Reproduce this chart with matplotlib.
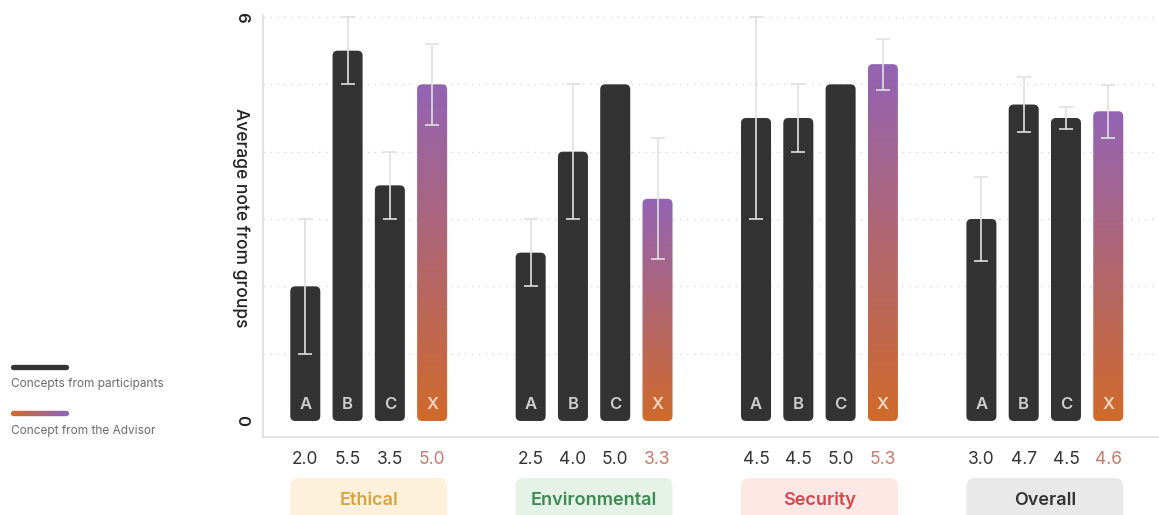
import numpy as np
import matplotlib.pyplot as plt
from matplotlib.patches import FancyBboxPatch
from matplotlib.colors import LinearSegmentedColormap
from matplotlib.collections import LineCollection
from matplotlib.lines import Line2D

plt.rcParams['font.family'] = ['Inter', 'DejaVu Sans']

# --- data ---
categories = ['Ethical', 'Environmental', 'Security', 'Overall']
concepts = ['A', 'B', 'C', 'X']
means = [
    [2.0, 5.5, 3.5, 5.0],
    [2.5, 4.0, 5.0, 3.3],
    [4.5, 4.5, 5.0, 5.3],
    [3.0, 4.7, 4.5, 4.6],
]
errors = [
    [1.0, 0.5, 0.5, 0.6],
    [0.5, 1.0, 0.0, 0.9],
    [1.5, 0.5, 0.0, 0.38],
    [0.63, 0.41, 0.16, 0.39],
]

# --- style ---
DARK = '#333333'
ADVISOR_TOP = '#9363b4'
ADVISOR_BOTTOM = '#d06a2b'
ERR_COLOR = '#e0e0e0'
GRID_COLOR = '#d9d9d9'
BOX_BG = ['#fdf1db', '#e5f2e6', '#fde8e6', '#e9e9e9']
BOX_FG = ['#d9a441', '#3d8a56', '#d9444b', '#333333']
VALUE_ADVISOR = '#c47a6c'

GAP = 5.33          # distance between groups, in bar slots
W = 0.71            # bar width
ASPECT = 0.63       # y units per x unit at equal pixels

grad_cmap = LinearSegmentedColormap.from_list('advisor', [ADVISOR_BOTTOM, ADVISOR_TOP])

fig = plt.figure(figsize=(11.59, 5.15), dpi=100)
ax = fig.add_axes([263 / 1159, 1 - 437 / 515, (1159 - 263) / 1159, (437 - 15) / 515])

# dotted grid lines
for yv in range(1, 7):
    ax.axhline(yv, color=GRID_COLOR, lw=1.0, ls=(0, (1, 4)), zorder=0)

for g, cat in enumerate(categories):
    xs = [g * GAP + i for i in range(len(concepts))]
    for x, val, err, lab in zip(xs, means[g], errors[g], concepts):
        advisor = lab == 'X'
        patch = FancyBboxPatch((x - W / 2, 0), W, val,
                               boxstyle='round,pad=0,rounding_size=0.12',
                               mutation_aspect=ASPECT,
                               facecolor='none' if advisor else DARK,
                               edgecolor='none', zorder=2)
        ax.add_patch(patch)
        if advisor:
            grad = np.linspace(0, 1, 256).reshape(-1, 1)
            im = ax.imshow(grad, extent=[x - W / 2, x + W / 2, 0, val], origin='lower',
                           cmap=grad_cmap, aspect='auto', zorder=2)
            im.set_clip_path(patch)
        if err > 0:
            ax.errorbar(x, val, yerr=err, fmt='none', ecolor=ERR_COLOR,
                        elinewidth=1.2, capsize=5, capthick=1.2, zorder=3)
        ax.text(x, 0.24, lab, ha='center', va='center', fontsize=12, fontweight='semibold',
                color='#f6d6c2' if advisor else '#cfcfcf', zorder=4)
        ax.text(x, -0.565, f'{val:.1f}', ha='center', va='center', fontsize=12.5,
                color=VALUE_ADVISOR if advisor else DARK, clip_on=False)

    box = FancyBboxPatch((xs[0] - W / 2, -1.6), xs[-1] - xs[0] + W, 1.6 - 0.847,
                         boxstyle='round,pad=0,rounding_size=0.2', mutation_aspect=ASPECT,
                         facecolor=BOX_BG[g], edgecolor='none', clip_on=False, zorder=1)
    ax.add_patch(box)
    ax.text((xs[0] + xs[-1]) / 2, -1.18, cat, ha='center', va='center', fontsize=13,
            fontweight='semibold', color=BOX_FG[g], clip_on=False)

ax.set_xlim(-1.0, 20.19)
ax.set_ylim(-0.238, 6.03)

# axes styling
for s in ['top', 'right']:
    ax.spines[s].set_visible(False)
ax.spines['left'].set_color('#dddddd')
ax.spines['bottom'].set_color('#dddddd')
ax.spines['left'].set_linewidth(1.2)
ax.spines['bottom'].set_linewidth(1.2)
ax.set_xticks([])
ax.set_yticks([0, 6])
ax.set_yticklabels(['0', '6'], rotation=-90, va='center', fontsize=12, fontweight='semibold', color='#222222')
ax.tick_params(axis='y', length=0, pad=10)

fig.text(241 / 1159, 1 - 218 / 515, 'Average note from groups', rotation=-90,
         ha='center', va='center', fontsize=12.5, fontweight='medium', color='#222222')

# legend (left side)
fig.add_artist(Line2D([13 / 1159, 66 / 1159], [1 - 367 / 515] * 2, transform=fig.transFigure,
                      color=DARK, lw=3.8, solid_capstyle='round'))
lx = np.linspace(13 / 1159, 66 / 1159, 40)
ly = np.full_like(lx, 1 - 413 / 515)
segs = [[(lx[k], ly[k]), (lx[k + 1], ly[k + 1])] for k in range(len(lx) - 1)]
lc = LineCollection(segs, colors=grad_cmap(np.linspace(0, 1, len(segs))), linewidths=3.8,
                    capstyle='round', transform=fig.transFigure)
fig.add_artist(lc)
fig.text(11 / 1159, 1 - 384 / 515, 'Concepts from participants', ha='left', va='center',
         fontsize=8.5, color='#6b6b6b')
fig.text(11 / 1159, 1 - 431 / 515, 'Concept from the Advisor', ha='left', va='center',
         fontsize=8.5, color='#6b6b6b')

fig.savefig('out.png', dpi=100)
